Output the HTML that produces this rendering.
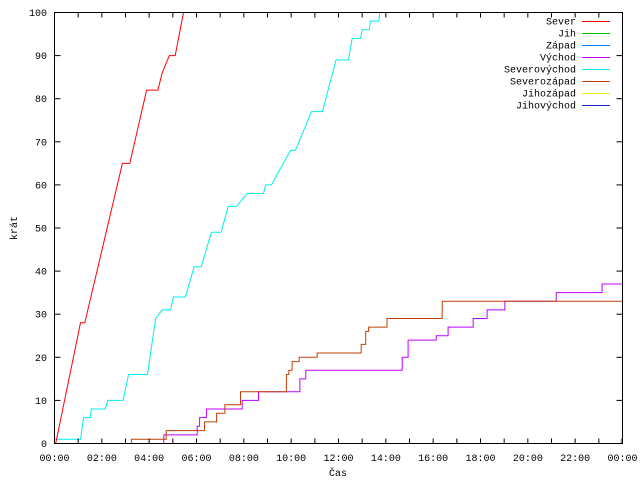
<!DOCTYPE html>
<html><head><meta charset="utf-8">
<style>
html,body{margin:0;padding:0;background:#fff;}
svg{display:block;font-family:"Liberation Mono","DejaVu Sans Mono",monospace;font-size:10px;}
</style></head>
<body>
<svg id="chart" width="640" height="480" viewBox="0 0 640 480" xmlns="http://www.w3.org/2000/svg">
<rect x="0" y="0" width="640" height="480" fill="#fff"/>
<g id="grid"></g>
<g id="series"></g>
<rect x="54.5" y="12.5" width="568" height="431" fill="none" stroke="#000" stroke-width="1"/>
<g id="axes"></g>
<g id="legend"></g>
<text transform="translate(17,228) rotate(-90)" text-anchor="middle">krát</text>
<text x="338" y="476" text-anchor="middle">Čas</text>
</svg>
<script>
// ---- data ----
const xTickHours = [0,2,4,6,8,10,12,14,16,18,20,22,24];
const xTickLabels = ["00:00","02:00","04:00","06:00","08:00","10:00","12:00","14:00","16:00","18:00","20:00","22:00","00:00"];
const yTicks = [0,10,20,30,40,50,60,70,80,90,100];
const seriesNames = ["Sever","Jih","Západ","Východ","Severovýchod","Severozápad","Jihozápad","Jihovýchod"];
const seriesColors = ["#ff0000","#00c000","#0080ff","#c000ff","#00eeee","#c04000","#eeee00","#2020c0"];
// Sever (linear ramps)
const severT = [0.05,1.1,1.28,2.87,3.18,3.89,4.37,4.55,4.85,5.1,5.45];
const severV = [0,28,28,65,65,82,82,86,90,90,100];
// Severovýchod (linear ramps)
const svT = [0,1.1,1.23,1.52,1.55,2.15,2.25,2.9,3.13,3.93,4.27,4.55,4.9,5.03,5.53,5.9,6.2,6.63,7.04,7.34,7.69,8.14,8.83,8.92,9.17,9.97,10.18,10.86,11.32,11.9,12.42,12.58,12.93,13.0,13.3,13.35,13.7,13.75];
const svV = [1,1,6,6,8,8,10,10,16,16,29,31,31,34,34,41,41,49,49,55,55,58,58,60,60,68,68,77,77,89,89,94,94,96,96,98,98,100];
// Severozápad (steps: value holds from time)
const szT = [0,3.25,4.72,6.34,6.85,7.2,7.86,9.8,9.9,10.04,10.34,11.1,12.96,13.15,13.27,14.05,16.38];
const szV = [0,1,3,5,7,9,12,16,17,19,20,21,23,26,27,29,33];
// Východ (steps)
const vyT = [0,4.62,6.03,6.13,6.42,7.93,8.62,10.37,10.62,14.69,14.94,16.13,16.63,17.69,18.28,19.03,21.2,23.14];
const vyV = [0,2,4,6,8,10,12,15,17,20,24,25,27,29,31,33,35,37];
// Západ (steps)
const zaT = [23.9,23.95];
const zaV = [0,1];

// ---- axes ----
const X0=54.5, X1=622.5, Y0=443.5, Y1=12.5;
const xs = h => X0 + (X1-X0)*h/24;
const ys = v => Y0 - (Y0-Y1)*v/100;
const NS="http://www.w3.org/2000/svg";
function mk(tag, attrs){const e=document.createElementNS(NS,tag);for(const k in attrs)e.setAttribute(k,attrs[k]);return e;}

const axes=document.getElementById('axes');
for(let h=0;h<=24;h++){
  const t1=mk('line',{x1:xs(h),x2:xs(h),y1:Y0,y2:Y0-5,stroke:'#000'});
  
  
  axes.appendChild(t1);
  const t2=mk('line',{x1:xs(h),x2:xs(h),y1:Y1,y2:Y1+5,stroke:'#000'});
  
  
  axes.appendChild(t2);
}
xTickHours.forEach((h,i)=>{
  const t=mk('text',{x:xs(h),y:461,'text-anchor':'middle'});
  t.textContent=xTickLabels[i];
  
  
  axes.appendChild(t);
});
yTicks.forEach(v=>{
  const a=mk('line',{x1:X0,x2:X0+6,y1:ys(v),y2:ys(v),stroke:'#000'});
  
  
  axes.appendChild(a);
  const b=mk('line',{x1:X1,x2:X1-6,y1:ys(v),y2:ys(v),stroke:'#000'});
  
  
  axes.appendChild(b);
  const t=mk('text',{x:47,y:ys(v)+3.5,'text-anchor':'end'});
  t.textContent=String(v);
  
  
  axes.appendChild(t);
});

// ---- series ----
const sg=document.getElementById('series');
function linePts(T,V){return T.map((t,i)=>xs(t).toFixed(1)+','+ys(V[i]).toFixed(1)).join(' ');}
function stepPts(T,V,end){
  const p=[];
  for(let i=0;i<T.length;i++){
    if(i>0)p.push([T[i],V[i-1]]);
    p.push([T[i],V[i]]);
  }
  p.push([end,V[V.length-1]]);
  return p.map(q=>xs(q[0]).toFixed(1)+','+ys(q[1]).toFixed(1)).join(' ');
}
function addSeries(name,pts,color){
  const pl=mk('polyline',{points:pts,fill:'none',stroke:color,'stroke-width':1});
  
  
  sg.appendChild(pl);
}
addSeries('series-zapad',stepPts(zaT,zaV,24),seriesColors[2]);
addSeries('series-vychod',stepPts(vyT,vyV,24),seriesColors[3]);
addSeries('series-severozapad',stepPts(szT,szV,24),seriesColors[5]);
addSeries('series-severovychod',linePts(svT,svV),seriesColors[4]);
addSeries('series-sever',linePts(severT,severV),seriesColors[0]);

// ---- legend ----
const lg=document.getElementById('legend');
seriesNames.forEach((n,i)=>{
  const y=21+i*12;
  const t=mk('text',{x:576,y:y+3.5,'text-anchor':'end'});
  t.textContent=n;
  
  
  lg.appendChild(t);
  const l=mk('line',{x1:582,x2:610,y1:y+0.5,y2:y+0.5,stroke:seriesColors[i]});
  
  
  lg.appendChild(l);
});
</script>
</body></html>
